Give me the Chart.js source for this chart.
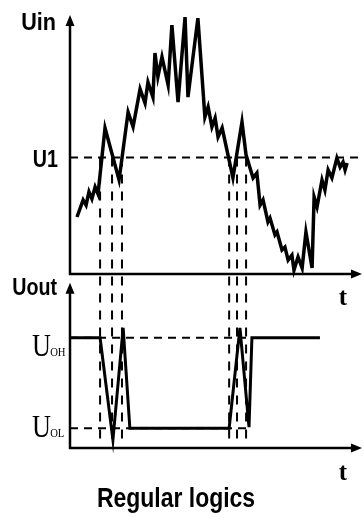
<!DOCTYPE html>
<html><head><meta charset="utf-8">
<script src="https://cdn.jsdelivr.net/npm/chart.js@4/dist/chart.umd.min.js"></script>
<style>html,body{margin:0;padding:0;background:#fff;overflow:hidden}canvas{display:block}</style>
</head><body>
<canvas id="c" width="364" height="518"></canvas>
<script>
// ---- data (time in arbitrary units 0..100, voltages in arbitrary units) ----
const uinTimes = [2.4,4.5,5.5,6.5,7.5,8.6,9.6,12.0,16.8,19.9,21.6,24.0,25.7,26.7,28.4,29.1,30.1,31.5,33.6,34.9,37.0,39.4,40.4,43.8,46.2,47.3,48.6,49.7,50.7,52.1,55.8,58.9,60.3,62.7,64.0,65.1,66.1,67.8,68.5,70.2,70.9,72.6,73.6,74.7,76.0,76.7,78.1,79.5,80.8,82.9,83.6,84.6,86.3,87.3,88.4,89.7,91.4,92.5,93.5,94.2,94.9];
const uinValues = [2.20,2.86,2.66,3.17,2.90,3.36,3.09,5.64,3.63,6.25,5.68,7.14,6.60,7.41,6.83,8.53,7.61,8.38,7.30,9.61,6.64,9.92,6.83,9.88,6.06,6.45,5.68,6.02,5.29,5.64,3.71,5.87,4.59,3.71,3.90,2.66,2.86,2.01,2.16,1.51,1.62,0.93,1.04,0.54,0.73,0.15,0.66,0.23,1.62,0.23,2.97,2.59,3.63,3.24,4.02,3.71,4.48,4.13,4.32,4.02,4.29];
const uoutTimes = [0,10.3,14.7,18.2,20.5,54.5,58.2,61.3,62.3,85.6];
const uoutValues = [3.8,3.8,0.28,4.14,0.68,0.68,4.14,0.72,3.8,3.8];
const thresholdU1 = 4.5;
const levelUOH = 3.8;
const levelUOL = 0.68;
const uohDashEnd = 62.3;
const uolDashEnd = 61.3;
const switchTimes = [10.3,14.4,17.8,54.5,57.2,60.3];
const switchBottom = 0.3;
const timeRange = [0, 100];
const uinRange = [0, 10];
const uoutRange = [0, 6];
const uoutArrowTop = 5.7;
const titleText = 'Regular logics';
const inLabel = 'Uin', outLabel = 'Uout', u1Label = 'U1', timeLabel = 't';
const uohLabel = ['U', 'OH'], uolLabel = ['U', 'OL'];

const INK = '#000';
const SANS = '"Liberation Sans", Arial, sans-serif';
const SERIF = '"Liberation Serif", "DejaVu Serif", serif';

function pts(xs, ys) { return xs.map((t, i) => ({x: t, y: ys[i]})); }

function arrowLine(ctx, xa, ya, xb, yb) {
  const len = Math.hypot(xb - xa, yb - ya);
  const ux = (xb - xa) / len, uy = (yb - ya) / len;
  const head = 11, half = 4.5;
  ctx.beginPath();
  ctx.moveTo(xa, ya);
  ctx.lineTo(xb - ux * (head - 2), yb - uy * (head - 2));
  ctx.stroke();
  ctx.beginPath();
  ctx.moveTo(xb, yb);
  ctx.lineTo(xb - ux * head - uy * half, yb - uy * head + ux * half);
  ctx.lineTo(xb - ux * head + uy * half, yb - uy * head - ux * half);
  ctx.closePath();
  ctx.fill();
}

// text narrowed horizontally (the reference uses condensed faces)
function narrowText(ctx, text, x, y, font, align, sx) {
  ctx.save();
  ctx.translate(x, y);
  ctx.scale(sx, 1);
  ctx.font = font;
  ctx.textAlign = align;
  ctx.textBaseline = 'alphabetic';
  ctx.fillText(text, 0, 0);
  ctx.restore();
}

function subLabel(ctx, parts, xLeft, baseline) {
  ctx.save();
  ctx.translate(xLeft, baseline);
  ctx.scale(0.82, 1);
  ctx.textAlign = 'left';
  ctx.textBaseline = 'alphabetic';
  ctx.font = '32px ' + SERIF;
  ctx.fillText(parts[0], 0, 0);
  const w = ctx.measureText(parts[0]).width;
  ctx.font = '13px ' + SERIF;
  ctx.fillText(parts[1], w - 1, 0);
  ctx.restore();
}

const diagramPlugin = {
  id: 'diagram',
  beforeDatasetsDraw(chart) {
    const {ctx} = chart;
    const {x, yIn, yOut} = chart.scales;
    ctx.save();
    ctx.strokeStyle = INK;
    ctx.fillStyle = INK;
    ctx.lineWidth = 2;
    ctx.setLineDash([9, 8]);
    const vTop = yIn.getPixelForValue(thresholdU1);
    const vBot = yOut.getPixelForValue(switchBottom);
    switchTimes.forEach(t => {
      const px = x.getPixelForValue(t);
      ctx.beginPath();
      ctx.moveTo(px, vTop);
      ctx.lineTo(px, vBot);
      ctx.stroke();
    });
    ctx.setLineDash([]);
    ctx.lineWidth = 2.5;
    const x0 = x.getPixelForValue(timeRange[0]);
    const x1 = x.getPixelForValue(timeRange[1]);
    const inZero = yIn.getPixelForValue(0);
    const outZero = yOut.getPixelForValue(0);
    arrowLine(ctx, x0, inZero + 1, x0, yIn.getPixelForValue(uinRange[1]));
    arrowLine(ctx, x0 - 1, inZero, x1, inZero);
    arrowLine(ctx, x0, outZero + 1, x0, yOut.getPixelForValue(uoutArrowTop));
    arrowLine(ctx, x0 - 1, outZero, x1, outZero);
    ctx.restore();
  },
  afterDraw(chart) {
    const {ctx, chartArea} = chart;
    const {x, yIn, yOut} = chart.scales;
    const x0 = x.getPixelForValue(0);
    ctx.save();
    ctx.fillStyle = INK;
    narrowText(ctx, inLabel, x0 - 14, yIn.getPixelForValue(uinRange[1]) + 15, 'bold 24px ' + SANS, 'right', 0.9);
    narrowText(ctx, u1Label, x0 - 12, yIn.getPixelForValue(thresholdU1) + 9.5, 'bold 24px ' + SANS, 'right', 0.82);
    narrowText(ctx, outLabel, x0 - 13, yOut.getPixelForValue(uoutArrowTop) + 12, 'bold 24px ' + SANS, 'right', 0.82);
    subLabel(ctx, uohLabel, x0 - 38, yOut.getPixelForValue(levelUOH) + 18);
    subLabel(ctx, uolLabel, x0 - 38, yOut.getPixelForValue(levelUOL) + 9);
    const tx = x.getPixelForValue(93.5);
    narrowText(ctx, timeLabel, tx, yIn.getPixelForValue(0) + 31, 'bold 25px ' + SERIF, 'center', 1);
    narrowText(ctx, timeLabel, tx, yOut.getPixelForValue(0) + 32, 'bold 25px ' + SERIF, 'center', 1);
    // caption
    narrowText(ctx, titleText, 176, chartArea.bottom + 59, 'bold 28px ' + SANS, 'center', 0.82);
    ctx.restore();
  }
};

const lineStyle = {borderColor: INK, pointRadius: 0, tension: 0, fill: false, clip: false};

new Chart(document.getElementById('c'), {
  type: 'line',
  data: {
    datasets: [
      Object.assign({label: 'Uin', yAxisID: 'yIn', data: pts(uinTimes, uinValues), borderWidth: 3.5}, lineStyle),
      Object.assign({label: 'Uout', yAxisID: 'yOut', data: pts(uoutTimes, uoutValues), borderWidth: 3}, lineStyle),
      Object.assign({label: 'U1', yAxisID: 'yIn', data: pts(timeRange, [thresholdU1, thresholdU1]), borderWidth: 2, borderDash: [8, 6]}, lineStyle),
      Object.assign({label: 'UOH', yAxisID: 'yOut', data: pts([0, uohDashEnd], [levelUOH, levelUOH]), borderWidth: 2, borderDash: [8, 6]}, lineStyle),
      Object.assign({label: 'UOL', yAxisID: 'yOut', data: pts([0, uolDashEnd], [levelUOL, levelUOL]), borderWidth: 2, borderDash: [8, 6]}, lineStyle)
    ]
  },
  options: {
    responsive: false,
    animation: false,
    devicePixelRatio: 1,
    layout: {padding: {left: 0, right: 2, top: 15, bottom: 70}},
    scales: {
      x: {type: 'linear', min: timeRange[0], max: timeRange[1], display: false},
      yIn: {type: 'linear', position: 'left', min: uinRange[0], max: uinRange[1], stack: 'panels', stackWeight: 259, weight: 2,
        ticks: {display: false}, grid: {display: false}, border: {display: false}, afterFit(s) { s.width = 70; }},
      yOut: {type: 'linear', position: 'left', min: uoutRange[0], max: uoutRange[1], stack: 'panels', stackWeight: 174, weight: 1,
        ticks: {display: false}, grid: {display: false}, border: {display: false}, afterFit(s) { s.width = 70; }}
    },
    plugins: {
      legend: {display: false},
      tooltip: {enabled: false},
      title: {display: false}
    }
  },
  plugins: [diagramPlugin]
});
</script>
</body></html>
